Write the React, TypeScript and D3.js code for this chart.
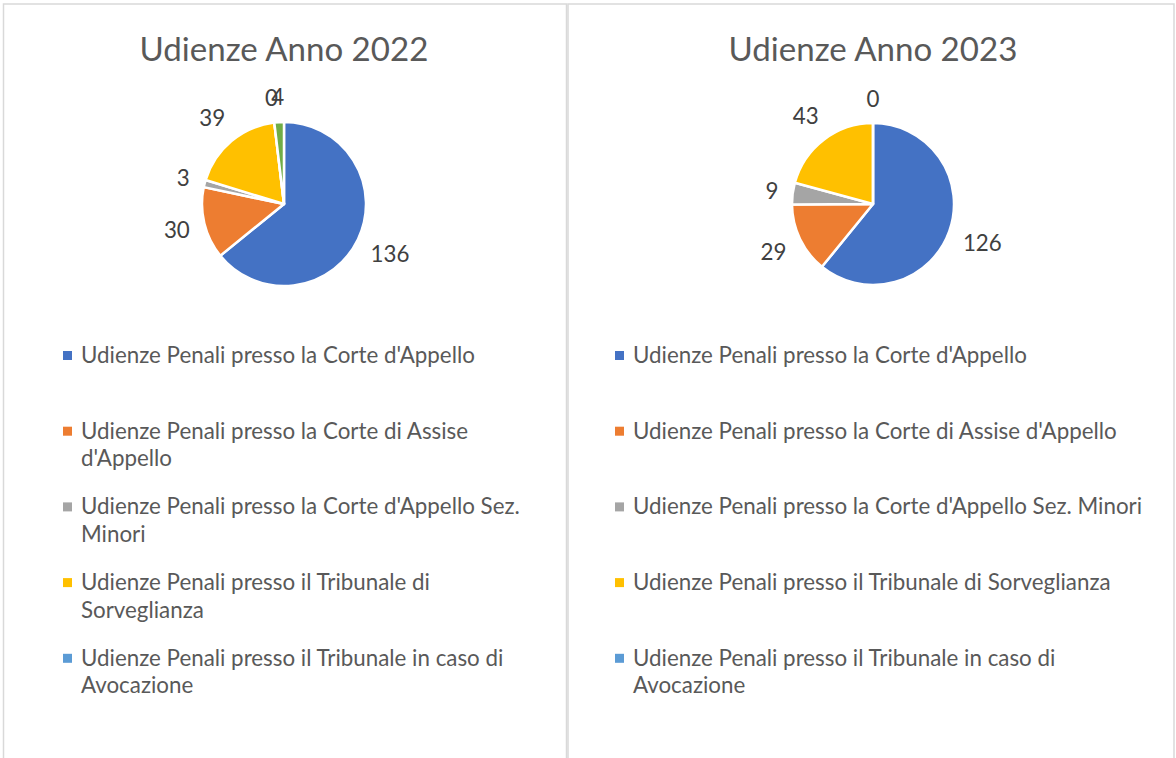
import React from "react";
import * as d3 from "d3";

const categories = [
  "Udienze Penali presso la Corte d'Appello",
  "Udienze Penali presso la Corte di Assise d'Appello",
  "Udienze Penali presso la Corte d'Appello Sez. Minori",
  "Udienze Penali presso il Tribunale di Sorveglianza",
  "Udienze Penali presso il Tribunale in caso di Avocazione",
];
const colors = ["#4472C4", "#ED7D31", "#A5A5A5", "#FFC000", "#5B9BD5", "#70AD47"];
const values2022 = [136, 30, 3, 39, 0, 4];
const values2023 = [126, 29, 9, 43, 0];
const titles = ["Udienze Anno 2022", "Udienze Anno 2023"];

const FONT = "Lato, 'Open Sans', sans-serif";
const W = 1176;
const H = 758;

let ctx: CanvasRenderingContext2D | null = null;
function measure(text: string, size: number): number {
  if (!ctx) ctx = document.createElement("canvas").getContext("2d");
  if (!ctx) return text.length * size * 0.5;
  ctx.font = `${size}px ${FONT}`;
  return ctx.measureText(text).width;
}

function wrap(text: string, size: number, maxW: number): string[] {
  const words = text.split(" ");
  const lines: string[] = [];
  let cur = "";
  for (const w of words) {
    const t = cur ? cur + " " + w : w;
    if (cur && measure(t, size) > maxW) {
      lines.push(cur);
      cur = w;
    } else cur = t;
  }
  if (cur) lines.push(cur);
  return lines;
}

type PanelProps = {
  title: string;
  values: number[];
  cx: number;
  cy: number;
  r: number;
  legendX: number;
  legendMax: number;
  titleSize: number;
  textSize: number;
};

function Panel({ title, values, cx, cy, r, legendX, legendMax, titleSize, textSize }: PanelProps) {
  const pie = d3.pie<number>().sort(null).value((d) => d).startAngle(0).endAngle(2 * Math.PI);
  const arcs = pie(values);
  const arc = d3.arc<d3.PieArcDatum<number>>().innerRadius(0).outerRadius(r);
  const gap = 13;
  return (
    <g>
      <text
        x={cx}
        y={61}
        textAnchor="middle"
        fontFamily={FONT}
        fontSize={titleSize}
        fill="#595959"
      >
        {title}
      </text>
      <g transform={`translate(${cx},${cy})`}>
        {arcs.map((a, i) => (
          <path key={i} d={arc(a) || ""} fill={colors[i]} stroke="#fff" strokeWidth={2.5} strokeLinejoin="round" />
        ))}
        {arcs.map((a, i) => {
          const mid = (a.startAngle + a.endAngle) / 2;
          const dx = Math.sin(mid);
          const dy = -Math.cos(mid);
          const label = String(a.data);
          const hw = measure(label, textSize) / 2;
          const hh = textSize * 0.5;
          const ext = Math.abs(dx) * hw + Math.abs(dy) * hh;
          const d = r + gap + ext;
          return (
            <text
              key={"l" + i}
              x={dx * d}
              y={dy * d}
              dy="0.35em"
              textAnchor="middle"
              fontFamily={FONT}
              fontSize={textSize}
              fill="#404040"
            >
              {label}
            </text>
          );
        })}
      </g>
      {categories.map((c, i) => {
        const baseY = 363 + i * 75.7;
        const lines = wrap(c, textSize, legendMax);
        return (
          <g key={"lg" + i}>
            <rect x={legendX - 18} y={baseY - 12} width={9} height={9} fill={colors[i]} />
            <text x={legendX} y={baseY} fontFamily={FONT} fontSize={textSize} fill="#595959">
              {lines.map((ln, j) => (
                <tspan key={j} x={legendX} dy={j === 0 ? 0 : 27.5}>
                  {ln}
                </tspan>
              ))}
            </text>
          </g>
        );
      })}
    </g>
  );
}

export default function App() {
  const textSize = 20 * (394 / measure(categories[0], 20));
  const titleSize = 30 * (290 / measure(titles[0], 30));
  return (
    <div style={{ position: "fixed", left: 0, top: 0 }}>
      <svg width={W} height={H} style={{ display: "block", background: "#fff" }}>
        <rect x={0} y={0} width={W} height={H} fill="#fff" />
        <rect x={3.5} y={4} width={563} height={800} fill="none" stroke="#D9D9D9" strokeWidth={1.5} />
        <rect x={568} y={4} width={606} height={800} fill="none" stroke="#D9D9D9" strokeWidth={1.5} />
        <Panel
          title={titles[0]}
          values={values2022}
          cx={284}
          cy={204}
          r={82}
          legendX={81}
          legendMax={472}
          titleSize={titleSize}
          textSize={textSize}
        />
        <Panel
          title={titles[1]}
          values={values2023}
          cx={873}
          cy={204}
          r={81}
          legendX={633}
          legendMax={518}
          titleSize={titleSize}
          textSize={textSize}
        />
      </svg>
    </div>
  );
}
